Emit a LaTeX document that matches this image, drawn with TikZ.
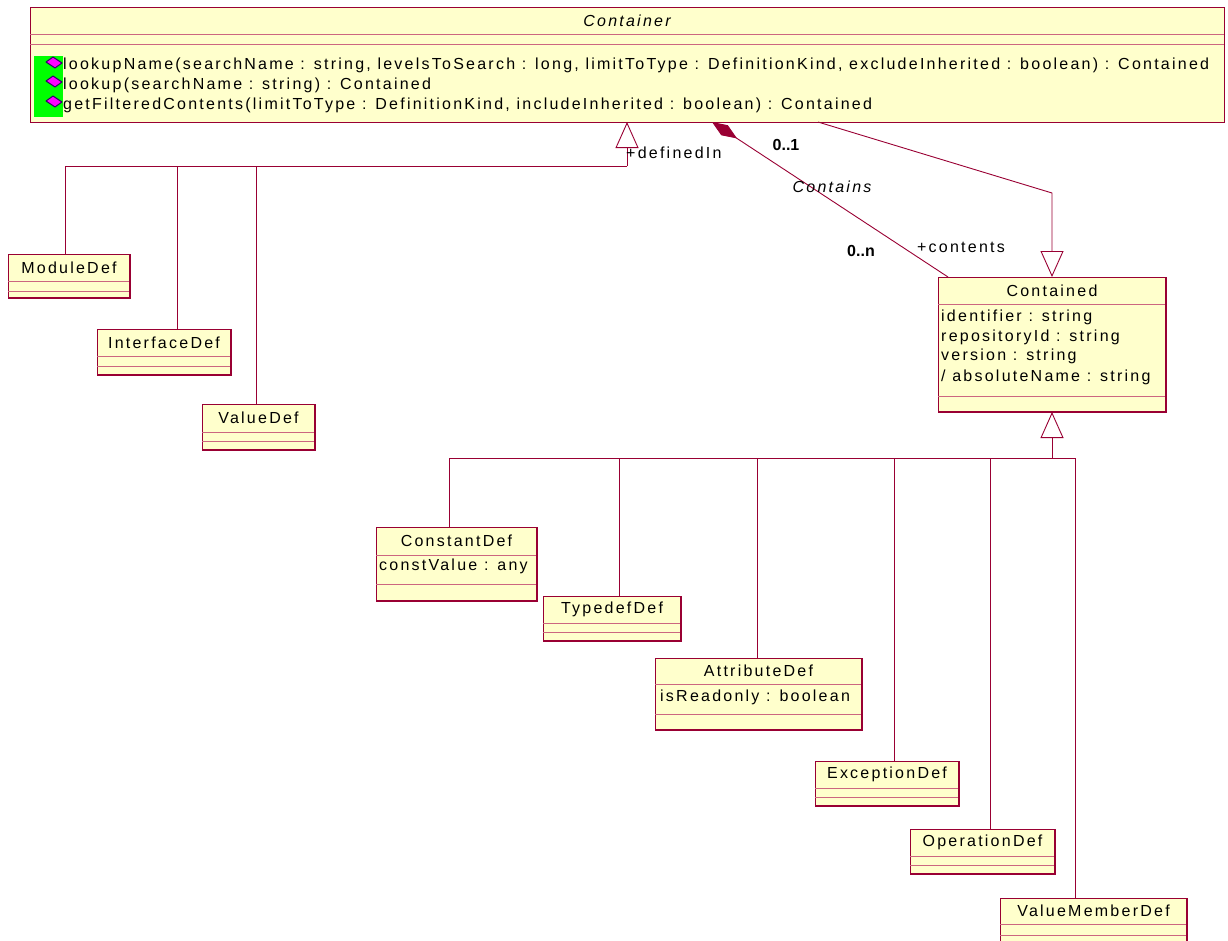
\documentclass[tikz,border=0pt]{standalone}
\usepackage{fontspec}
\setmainfont{Liberation Sans}[LetterSpace=14]
\newfontfamily\plainfont{Liberation Sans}
\usetikzlibrary{arrows.meta,calc}
\definecolor{umlline}{HTML}{990033}
\definecolor{umlfill}{HTML}{FFFFCC}
\definecolor{umlsep}{HTML}{CC6680}
\definecolor{opicon}{HTML}{FF00FF}
\definecolor{opedge}{HTML}{330066}
\definecolor{opback}{HTML}{00FF00}
\tikzset{
  cls/.style={draw=umlline, fill=umlfill, line width=0.9pt, inner sep=0pt, outer sep=0pt, anchor=north west},
  sepline/.style={draw=umlsep, line width=0.9pt},
  shadowline/.style={draw=umlline, line width=1.8pt},
  txt/.style={inner sep=0pt, font=\fontsize{16}{19}\selectfont, text=black},
  lbl/.style={inner sep=0pt, font=\plainfont\fontsize{16}{19}\selectfont\bfseries, text=black},
  conn/.style={draw=umlline, line width=0.9pt},
  gen/.style={conn, -{Triangle[length=26pt, width=23pt, fill=white]}},
  comp/.style={conn, -{Diamond[length=30pt, width=12pt, fill=umlline]}},
}
\newcommand\umlbox[8]{%
  \node[cls, minimum width=#4pt, minimum height=#5pt] (#1) at (#2,#3) {};
  \draw[sepline] ($(#1.north west)+(0,#6)$) -- ($(#1.north east)+(0,#6)$);
  \draw[sepline] ($(#1.north west)+(0,#7)$) -- ($(#1.north east)+(0,#7)$);
  \draw[shadowline] (#1.south west) -- (#1.south east) -- (#1.north east);
  \node[txt] (#1-title) at ($(#1.north)+(0,#6/2)$) {#8};
}
\begin{document}
\begin{tikzpicture}[x=1pt,y=-1pt]
\useasboundingbox (0,0) rectangle (1228,940);
% Container
\node[cls, minimum width=1194pt, minimum height=115pt] (Container) at (30,7) {};
\draw[sepline] ($(Container.north west)+(0,27)$) -- ($(Container.north east)+(0,27)$);
\draw[sepline] ($(Container.north west)+(0,37)$) -- ($(Container.north east)+(0,37)$);
\node[txt, font=\fontsize{16}{19}\selectfont\itshape] (Container-title) at ($(Container.north)+(0,13.5)$) {Container};
\node[fill=opback, inner sep=0pt, minimum width=29pt, minimum height=61pt, anchor=north west] (opbg) at (34,56) {};
\foreach \yy in {62,81,101}{
  \filldraw[fill=opicon, draw=opedge, line width=1pt, line join=round] (46,\yy) -- (53,\yy-5) -- (62,\yy+1) -- (55,\yy+6) -- cycle;
}
\node[txt, anchor=west] (op1) at (63,65) {lookupName(searchName : string, levelsToSearch : long, limitToType : DefinitionKind, excludeInherited : boolean) : Contained};
\node[txt, anchor=west] (op2) at (63,85) {lookup(searchName : string) : Contained};
\node[txt, anchor=west] (op3) at (63,105) {getFilteredContents(limitToType : DefinitionKind, includeInherited : boolean) : Contained};

% Classes
\umlbox{ModuleDef}{8}{254}{122}{44}{27}{37}{ModuleDef}
\umlbox{InterfaceDef}{97}{329}{134}{46}{27}{37}{InterfaceDef}
\umlbox{ValueDef}{202}{404}{113}{46}{28}{37}{ValueDef}
\umlbox{Contained}{938}{277}{228}{135}{27}{119}{Contained}
\umlbox{ConstantDef}{376}{527}{161}{74}{28}{57}{ConstantDef}
\umlbox{TypedefDef}{543}{596}{138}{45}{27}{36}{TypedefDef}
\umlbox{AttributeDef}{655}{658}{207}{72}{26}{56}{AttributeDef}
\umlbox{ExceptionDef}{815}{761}{144}{45}{27}{36}{ExceptionDef}
\umlbox{OperationDef}{910}{829}{145}{45}{27}{36}{OperationDef}
\umlbox{ValueMemberDef}{1000}{898}{187}{60}{26}{37}{ValueMemberDef}

% attributes
\node[txt, anchor=west] (c-a1) at (941,317) {identifier : string};
\node[txt, anchor=west] (c-a2) at (941,337) {repositoryId : string};
\node[txt, anchor=west] (c-a3) at (941,356) {version : string};
\node[txt, anchor=west] (c-a4) at (941,377) {/ absoluteName : string};
\node[txt, anchor=west] (k-a1) at (379,566) {constValue : any};
\node[txt, anchor=west] (at-a1) at (660,697) {isReadonly : boolean};

% inheritance to Container
\coordinate (jL) at (627,166);
\draw[conn] ([xshift=-4pt]ModuleDef.north) |- (jL);
\draw[conn] ([xshift=13pt]InterfaceDef.north) |- (jL);
\draw[conn] ([xshift=-2.5pt]ValueDef.north) |- (jL);
\draw[gen] (jL) -- (jL |- Container.south);
\node[txt, anchor=west] (definedIn) at (626,153) {+definedIn};

% Contained inherits Container
\coordinate (bendC) at (1052,193);
\draw[gen] ([xshift=191pt]Container.south) -- (bendC) -- (Contained.north);

% composition
\draw[comp] ([xshift=10pt]Contained.north west) -- ([xshift=85pt]Container.south);
\node[lbl] (m1) at (786,145) {0..1};
\node[txt, font=\fontsize{16}{19}\selectfont\itshape] (assoc) at (832,187) {Contains};
\node[lbl] (m2) at (861,251) {0..n};
\node[txt] (contents) at (961,247) {+contents};

% inheritance to Contained
\coordinate (jR) at (1052,458);
\draw[gen] (jR) -- (Contained.south);
\draw[conn] ([xshift=-7.5pt]ConstantDef.north) |- (jR);
\draw[conn] ([xshift=7pt]TypedefDef.north) |- (jR);
\draw[conn] ([xshift=-1.5pt]AttributeDef.north) |- (jR);
\draw[conn] ([xshift=7pt]ExceptionDef.north) |- (jR);
\draw[conn] ([xshift=7.5pt]OperationDef.north) |- (jR);
\draw[conn] ([xshift=-18.5pt]ValueMemberDef.north) |- (jR);
\end{tikzpicture}
\end{document}
